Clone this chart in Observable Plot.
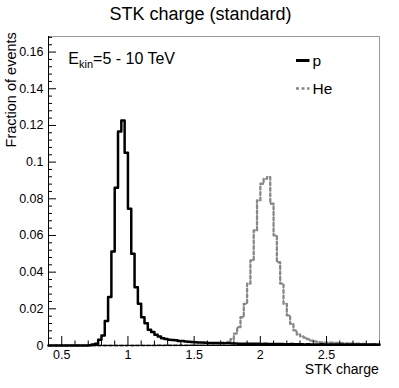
<!DOCTYPE html>
<html><head><meta charset="utf-8">
<script src="https://cdn.jsdelivr.net/npm/d3@7"></script>
<script src="https://cdn.jsdelivr.net/npm/@observablehq/plot@0.6"></script>
<style>body{margin:0;background:#fff;} svg{display:block;}</style>
</head><body><div id="chart"></div>
<script>
// Histogram binning (100 bins from 0.4 to 2.9)
const binLow = 0.4;
const binWidth = 0.025;

// Fraction of events per bin, proton (p)
const pValues = [
  0,0,0,0,0,0,0,0,0,0,
  0,0,0.0002,0.0005,0.0010,0.0031,0.0055,0.0133,0.0264,0.0513,
  0.0860,0.1167,0.1227,0.1051,0.0746,0.0500,0.0318,0.0227,0.0154,0.0122,
  0.0086,0.0073,0.0058,0.0049,0.0040,0.0035,0.0032,0.0030,0.0028,0.0025,
  0.0024,0.0022,0.0021,0.0019,0.0018,0.0017,0.0016,0.0015,0.0014,0.0014,
  0.0013,0.0013,0.0013,0.0012,0.0012,0.0011,0.0011,0.0010,0.0010,0.0010,
  0.0009,0.0009,0.0009,0.0009,0.0008,0.0009,0.0008,0.0008,0.0008,0.0008,
  0.0008,0.0007,0.0007,0.0008,0.0007,0.0007,0.0007,0.0006,0.0007,0.0006,
  0.0006,0.0006,0.0007,0.0006,0.0006,0.0005,0.0006,0.0006,0.0005,0.0006,
  0.0005,0.0005,0.0006,0.0005,0.0005,0.0005,0.0004,0.0005,0.0005,0.0004
];

// Fraction of events per bin, helium (He)
const heValues = [
  0,0,0,0,0,0,0,0,0,0,
  0,0,0,0,0,0,0,0,0,0,
  0,0,0,0,0.0001,0,0.0001,0.0001,0.0001,0.0001,
  0.0001,0.0001,0.0001,0.0002,0.0001,0.0002,0.0002,0.0002,0.0002,0.0002,
  0.0002,0.0002,0.0003,0.0003,0.0003,0.0003,0.0004,0.0004,0.0005,0.0005,
  0.0006,0.0007,0.0008,0.0012,0.0020,0.0035,0.0065,0.0100,0.0154,0.0227,
  0.0337,0.0464,0.0627,0.0791,0.0882,0.0909,0.0918,0.0773,0.0600,0.0454,
  0.0337,0.0227,0.0164,0.0118,0.0082,0.0060,0.0050,0.0043,0.0035,0.0027,
  0.0022,0.0018,0.0017,0.0016,0.0015,0.0015,0.0014,0.0014,0.0013,0.0012,
  0.0012,0.0011,0.0010,0.0010,0.0009,0.0009,0.0008,0.0008,0.0007,0.0007
];

const xDomain = [0.4, 2.9];
const yDomain = [0, 0.1685];
const xTicks = [0.5, 1, 1.5, 2, 2.5];
const xTickLabels = ["0.5", "1", "1.5", "2", "2.5"];
const yTicks = [0, 0.02, 0.04, 0.06, 0.08, 0.1, 0.12, 0.14, 0.16];
const yTickLabels = ["0", "0.02", "0.04", "0.06", "0.08", "0.1", "0.12", "0.14", "0.16"];
const series = ["p", "He"];
const titleText = "STK charge (standard)";
const xLabel = "STK charge";
const yLabel = "Fraction of events";

function steps(values) {
  const pts = values.map((v, i) => ({x: binLow + i * binWidth, y: v}));
  pts.push({x: binLow + values.length * binWidth, y: values[values.length - 1]});
  return pts;
}

const W = 399, H = 388;
const mL = 48, mR = 20, mT = 36, mB = 43;
const frameW = W - mL - mR, frameH = H - mT - mB;
const xMinor = d3.range(4, 30).map(d => d / 10).filter(d => !xTicks.some(t => Math.abs(t - d) < 1e-9));
const yMinor = d3.range(0, 43).map(d => d * 0.004).filter(d => d <= yDomain[1] && !yTicks.some(t => Math.abs(t - d) < 1e-9));
const font = "'Liberation Sans', Arial, Helvetica, sans-serif";

const plot = Plot.plot({
  width: W, height: H,
  marginLeft: mL, marginRight: mR, marginTop: mT, marginBottom: mB,
  style: {fontFamily: font, fontSize: "12.5px", background: "#fff", color: "#000"},
  x: {domain: xDomain},
  y: {domain: yDomain},
  marks: [
    Plot.frame({stroke: "#999"}),
    Plot.line(steps(heValues), {x: "x", y: "y", curve: "step-after", stroke: "#888", strokeWidth: 2.3, strokeDasharray: "3,2.5"}),
    Plot.line(steps(pValues), {x: "x", y: "y", curve: "step-after", stroke: "#000", strokeWidth: 2.5}),
    Plot.ruleX([xDomain[0]], {stroke: "#000"}),
    Plot.ruleY([0], {stroke: "#000"}),
    Plot.tickY(yTicks, {y: d => d, stroke: "#000", insetRight: frameW - 8}),
    Plot.tickY(yMinor, {y: d => d, stroke: "#000", insetRight: frameW - 4}),
    Plot.tickX(xTicks, {x: d => d, stroke: "#000", insetTop: frameH - 9}),
    Plot.tickX(xMinor, {x: d => d, stroke: "#000", insetTop: frameH - 4.5}),
    Plot.axisY({ticks: yTicks, tickSize: 0, tickPadding: 5, label: null, tickFormat: d => yTickLabels[yTicks.indexOf(d)], fontSize: 12.5}),
    Plot.axisX({ticks: xTicks, tickSize: 0, tickPadding: 5, label: null, tickFormat: d => xTickLabels[xTicks.indexOf(d)], fontSize: 12.5}),
    Plot.text([titleText], {frameAnchor: "top", lineAnchor: "middle", dx: -13.5, dy: -22.5, fontSize: 18, text: d => d}),
    Plot.text([xLabel], {frameAnchor: "bottom-right", lineAnchor: "middle", textAnchor: "end", dx: -0.7, dy: 24.5, fontSize: 14, text: d => d}),
    Plot.text([yLabel], {frameAnchor: "top-left", lineAnchor: "middle", textAnchor: "end", rotate: -90, dx: -37.5, dy: -4.3, fontSize: 14.5, text: d => d})
  ]
});

const svg = d3.select(plot);
// Energy annotation with subscript
const ek = svg.append("text").attr("x", 68.3).attr("y", 64).attr("text-anchor", "start")
  .attr("font-family", font).attr("font-size", 16).attr("fill", "#000");
ek.append("tspan").text("E");
ek.append("tspan").attr("font-size", 11).attr("dy", 4).text("kin");
ek.append("tspan").attr("dy", -4).text("=5 - 10 TeV");

// Legend
const leg = svg.append("g").attr("font-family", font).attr("font-size", 15.5).attr("text-anchor", "start");
const legStyles = [
  {stroke: "#000", width: 3, dash: null, y: 60.5},
  {stroke: "#888", width: 2.3, dash: "3,2.5", y: 88.5}
];
series.forEach((name, i) => {
  const s = legStyles[i];
  const l = leg.append("line").attr("x1", 296).attr("x2", 309.5).attr("y1", s.y).attr("y2", s.y)
    .attr("stroke", s.stroke).attr("stroke-width", s.width);
  if (s.dash) l.attr("stroke-dasharray", s.dash);
  leg.append("text").attr("x", 312.5).attr("y", s.y + 5.5).attr("fill", "#000").text(name);
});

document.getElementById("chart").appendChild(plot);
</script>
</body></html>
